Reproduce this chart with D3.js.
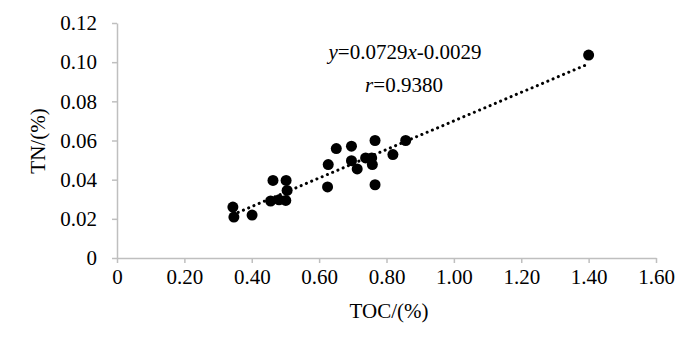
<!DOCTYPE html>
<html><head><meta charset="utf-8">
<script src="https://cdn.jsdelivr.net/npm/d3@7"></script>
<style>body{margin:0;background:#fff}svg{display:block}text{font-family:"Liberation Serif","Times New Roman",serif;fill:#000}</style>
</head><body><svg id="c" width="700" height="353"></svg>
<script>
const tocValues = [0.344,0.347,0.401,0.463,0.502,0.505,0.456,0.481,0.501,0.627,0.625,0.651,0.696,0.696,0.713,0.766,0.738,0.756,0.758,0.766,0.819,0.857,1.40];
const tnValues  = [0.026,0.0209,0.0219,0.0396,0.0396,0.0345,0.0291,0.0297,0.0294,0.0477,0.0363,0.0559,0.0571,0.0497,0.0455,0.060,0.0511,0.0511,0.0477,0.0374,0.0528,0.060,0.1036];
const xTicks = [0,0.2,0.4,0.6,0.8,1.0,1.2,1.4,1.6];
const xTickLabels = ["0","0.20","0.40","0.60","0.80","1.00","1.20","1.40","1.60"];
const yTicks = [0,0.02,0.04,0.06,0.08,0.10,0.12];
const yTickLabels = ["0","0.02","0.04","0.06","0.08","0.10","0.12"];
const slope = 0.0729, intercept = -0.0029, rValue = "0.9380";

const serif = '"Liberation Serif","Times New Roman",serif';
const svg = d3.select("#c");
const x = d3.scaleLinear().domain([0,1.6]).range([117,656]);
const y = d3.scaleLinear().domain([0,0.12]).range([258,23]);
const axisColor = "#bfbfbf";

const xa = svg.append("g").attr("transform","translate(0,258)")
  .call(d3.axisBottom(x).tickValues(xTicks).tickFormat((d,i)=>xTickLabels[i]).tickSizeInner(5).tickSizeOuter(0).tickPadding(6));
const ya = svg.append("g").attr("transform","translate(117,0)")
  .call(d3.axisLeft(y).tickValues(yTicks).tickFormat((d,i)=>yTickLabels[i]).tickSizeInner(5).tickSizeOuter(0).tickPadding(15));
[xa,ya].forEach(g=>{
  g.attr("font-family",null);
  g.selectAll("path,line").attr("stroke",axisColor).attr("stroke-width",1.5);
  g.selectAll("text").style("font-family",serif).style("font-size","21px").attr("fill","#000");
});

const pts = tocValues.map((v,i)=>[v,tnValues[i]]);
svg.append("g").selectAll("circle").data(pts).join("circle")
  .attr("cx",d=>x(d[0])).attr("cy",d=>y(d[1])).attr("r",5.5).attr("fill","#000");

const x0 = d3.min(tocValues), x1 = d3.max(tocValues);
svg.append("line")
  .attr("x1",x(x0)).attr("y1",y(slope*x0+intercept))
  .attr("x2",x(x1)).attr("y2",y(slope*x1+intercept))
  .attr("stroke","#000").attr("stroke-width",3).attr("stroke-linecap","round")
  .attr("stroke-dasharray","0.1,5.6");

const eq = svg.append("text").attr("x",405).attr("y",59).attr("text-anchor","middle").style("font-family",serif).style("font-size","21px");
eq.append("tspan").attr("font-style","italic").text("y");
eq.append("tspan").text("=" + slope.toFixed(4));
eq.append("tspan").attr("font-style","italic").text("x");
eq.append("tspan").text("-" + Math.abs(intercept).toFixed(4));
const rt = svg.append("text").attr("x",404).attr("y",92).attr("text-anchor","middle").style("font-family",serif).style("font-size","21px");
rt.append("tspan").attr("font-style","italic").text("r");
rt.append("tspan").text("=" + rValue);

svg.append("text").attr("x",389).attr("y",318).attr("text-anchor","middle").style("font-family",serif).style("font-size","21px").text("TOC/(%)");
svg.append("text").attr("transform","translate(45,141) rotate(-90)").attr("text-anchor","middle").style("font-family",serif).style("font-size","21px").text("TN/(%)");
</script></body></html>
